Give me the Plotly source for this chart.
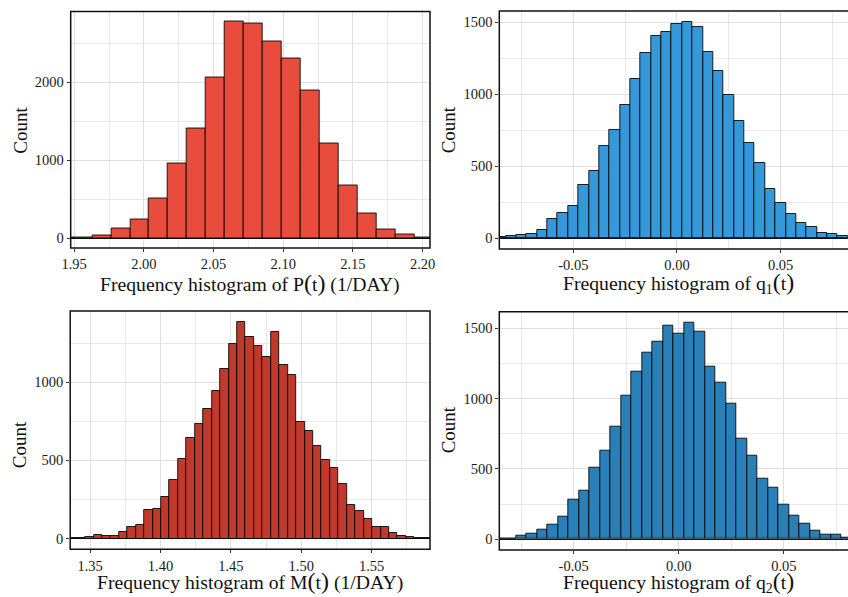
import plotly.graph_objects as go

# ---------------- data ----------------
p_centers = [1.9426, 1.9562, 1.9698, 1.9834, 1.9970, 2.0106, 2.0242, 2.0378, 2.0514, 2.0650,
             2.0786, 2.0922, 2.1058, 2.1194, 2.1330, 2.1466, 2.1602, 2.1738, 2.1874, 2.2010]
p_counts = [4, 9, 38, 124, 244, 504, 962, 1410, 2060, 2778,
            2748, 2526, 2299, 1889, 1214, 675, 321, 111, 51, 13]
p_width = 0.0136

q1_centers = [-0.085, -0.080, -0.075, -0.070, -0.065, -0.060, -0.055, -0.050, -0.045, -0.040,
              -0.035, -0.030, -0.025, -0.020, -0.015, -0.010, -0.005, 0.000, 0.005, 0.010,
              0.015, 0.020, 0.025, 0.030, 0.035, 0.040, 0.045, 0.050, 0.055, 0.060,
              0.065, 0.070, 0.075, 0.080]
q1_counts = [7, 12, 24, 31, 60, 132, 173, 224, 367, 469,
             640, 751, 928, 1106, 1284, 1402, 1434, 1485, 1503, 1464,
             1296, 1164, 995, 811, 658, 522, 340, 242, 169, 106,
             76, 39, 30, 14]
q1_width = 0.005

m_centers = [1.3375, 1.3435, 1.3495, 1.3555, 1.3615, 1.3675, 1.3735, 1.3795, 1.3855, 1.3915,
             1.3975, 1.4035, 1.4095, 1.4155, 1.4215, 1.4275, 1.4335, 1.4395, 1.4455, 1.4515,
             1.4575, 1.4635, 1.4695, 1.4755, 1.4815, 1.4875, 1.4935, 1.4995, 1.5055, 1.5115,
             1.5175, 1.5235, 1.5295, 1.5355, 1.5415, 1.5475, 1.5535, 1.5595, 1.5655, 1.5715,
             1.5775, 1.5835, 1.5895]
m_counts = [6, 1, 11, 21, 13, 19, 43, 72, 84, 183,
            189, 264, 374, 509, 643, 735, 829, 942, 1088, 1248,
            1387, 1291, 1231, 1162, 1323, 1113, 1045, 748, 686, 590,
            502, 449, 350, 212, 179, 124, 71, 71, 34, 14,
            7, 2, 2]
m_width = 0.006

q2_centers = q1_centers
q2_counts = [2, 3, 24, 40, 66, 102, 161, 278, 346, 508,
             629, 800, 1023, 1194, 1324, 1407, 1519, 1464, 1540, 1476,
             1224, 1111, 961, 714, 593, 427, 365, 244, 164, 109,
             57, 30, 30, 12]
q2_width = 0.005

FONT = "Liberation Serif"
BIG = "<span style='font-size:24px'>(</span>t<span style='font-size:24px'>)</span>"
titles = [
    "Frequency histogram of P" + BIG + " (1/DAY)",
    "Frequency histogram of q<sub>1</sub>" + BIG,
    "Frequency histogram of M" + BIG + " (1/DAY)",
    "Frequency histogram of q<sub>2</sub>" + BIG,
]

W, H = 848, 597
# panel pixel boxes: (left, right, top, bottom)
boxes = [(70.7, 430, 11.5, 248), (499.3, 848, 11, 249),
         (70.2, 430, 311, 549.3), (499.3, 848, 311.7, 550)]
count_y = [130, 130, 445, 430]
title_y = [283, 283, 581, 582]

panels = [
    dict(x=p_centers, y=p_counts, w=p_width, color="#E74C3C",
         xr=[1.9475, 2.2053], yr=[-125, 2908], xt=[1.95, 2.00, 2.05, 2.10, 2.15, 2.20],
         yt=[0, 1000, 2000], ym=500),
    dict(x=q1_centers, y=q1_counts, w=q1_width, color="#3498DB",
         xr=[-0.0857, 0.0825], yr=[-75, 1578], xt=[-0.05, 0.0, 0.05],
         yt=[0, 500, 1000, 1500], ym=250),
    dict(x=m_centers, y=m_counts, w=m_width, color="#C0392B",
         xr=[1.3358, 1.5915], yr=[-69, 1456], xt=[1.35, 1.40, 1.45, 1.50, 1.55],
         yt=[0, 500, 1000], ym=250),
    dict(x=q2_centers, y=q2_counts, w=q2_width, color="#2980B9",
         xr=[-0.0854, 0.0805], yr=[-77, 1617], xt=[-0.05, 0.0, 0.05],
         yt=[0, 500, 1000, 1500], ym=250),
]

fig = go.Figure()
shapes = []
annotations = []
for i, (pn, box) in enumerate(zip(panels, boxes)):
    n = "" if i == 0 else str(i + 1)
    fig.add_trace(go.Bar(
        x=pn["x"], y=pn["y"], width=pn["w"],
        marker=dict(color=pn["color"], line=dict(color="rgba(0,0,0,0.85)", width=1)),
        xaxis="x" + n, yaxis="y" + n, showlegend=False,
    ))
    l, r, t, b = box
    xd = [l / W, r / W]
    yd = [1 - b / H, 1 - t / H]
    xdt = pn["xt"][1] - pn["xt"][0]
    fig.layout["xaxis" + n] = dict(
        domain=xd, anchor="y" + n, range=pn["xr"], tickvals=pn["xt"],
        ticktext=["%.2f" % v for v in pn["xt"]], automargin=False,
        showgrid=True, gridcolor="#e0e0e0", gridwidth=1, zeroline=False,
        ticks="outside", ticklen=3, tickcolor="#333333", tickwidth=1,
        tickfont=dict(family=FONT, size=14.5, color="#1a1a1a"),
        minor=dict(dtick=xdt / 2, tick0=pn["xt"][0], showgrid=True, gridcolor="#e8e8e8", gridwidth=1, ticks=""),
        showline=False, fixedrange=True,
    )
    fig.layout["yaxis" + n] = dict(
        domain=yd, anchor="x" + n, range=pn["yr"], tickvals=pn["yt"], automargin=False,
        showgrid=True, gridcolor="#e0e0e0", gridwidth=1,
        zeroline=True, zerolinecolor="#111111", zerolinewidth=1,
        ticks="outside", ticklen=3, tickcolor="#333333", tickwidth=1,
        tickfont=dict(family=FONT, size=14.5, color="#1a1a1a"),
        minor=dict(dtick=pn["ym"], tick0=0, showgrid=True, gridcolor="#e8e8e8", gridwidth=1, ticks=""),
        showline=False, fixedrange=True,
    )
    x1 = 1.0 if i % 2 == 0 else 1.05
    shapes.append(dict(type="rect", xref="x" + n + " domain", yref="y" + n + " domain",
                       x0=0, x1=x1, y0=0, y1=1, line=dict(color="#111111", width=1.5),
                       fillcolor="rgba(0,0,0,0)", layer="above"))
    # x title
    cx = (l + r) / 2 if i % 2 == 0 else (l + 858) / 2
    annotations.append(dict(text=titles[i], xref="paper", yref="paper",
                            x=cx / W, y=1 - title_y[i] / H,
                            xanchor="center", yanchor="middle", showarrow=False,
                            font=dict(family=FONT, size=19.7, color="#111111")))
    # y title
    annotations.append(dict(text="Count", xref="paper", yref="paper",
                            x=(l - 51) / W, y=1 - count_y[i] / H, textangle=-90,
                            xanchor="center", yanchor="middle", showarrow=False,
                            font=dict(family=FONT, size=19, color="#111111")))

fig.update_layout(
    template="none",
    width=W, height=H, margin=dict(l=0, r=0, t=0, b=0, pad=0, autoexpand=False),
    paper_bgcolor="white", plot_bgcolor="white",
    bargap=0, shapes=shapes, annotations=annotations,
    font=dict(family=FONT),
)
fig.write_html("out.html")
